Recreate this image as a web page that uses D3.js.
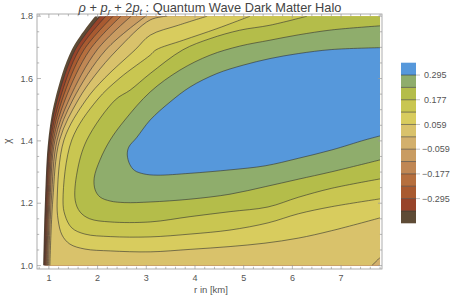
<!DOCTYPE html>
<html>
<head>
<meta charset="utf-8">
<script src="https://cdn.jsdelivr.net/npm/d3@7"></script>
<style>
  body { margin: 0; background: #fff; }
  svg { display: block; font-family: "Liberation Sans", Arial, sans-serif; }
</style>
</head>
<body>
<svg id="chart" width="463" height="297"></svg>
<script>
// contour levels and band colours (low -> high, one more colour than levels)
const levels = [-0.354, -0.295, -0.236, -0.177, -0.118, -0.059, 0, 0.059, 0.118, 0.177, 0.236, 0.295];
const bandColors = ["#5e4b36", "#98442a", "#a95a30", "#b66f3e", "#c08754", "#c99c62", "#d3b06c",
                    "#d9c26b", "#d8cc5e", "#c9c651", "#b4bd4a", "#8fad6c", "#5698db"];
const legendLabels = [0.295, 0.177, 0.059, -0.059, -0.177, -0.295];
const xTicks = [1, 2, 3, 4, 5, 6, 7];
const yTicks = [1.0, 1.2, 1.4, 1.6, 1.8];

// plotted region (r in km, chi)
const rMin = 0.756, rMax = 7.8, chiMin = 1.0, chiMax = 1.8;

// left border of the plotted values (below the plot range it is left blank)
const dataEdge = [[1.95, 1.8], [1.47, 1.692], [1.125, 1.531], [0.988, 1.403], [0.92, 1.21], [0.885, 1.0]];

// contour lines, [r, chi]
const cM354 = [[2.05, 1.8], [1.54, 1.692], [1.17, 1.531], [1.012, 1.403], [0.94, 1.21], [0.903, 1.0]];
const cM295 = [[2.17, 1.8], [1.62, 1.692], [1.22, 1.531], [1.037, 1.403], [0.961, 1.21], [0.92, 1.0]];
const cM236 = [[2.32, 1.8], [1.72, 1.692], [1.27, 1.531], [1.064, 1.403], [0.982, 1.21], [0.936, 1.0]];
const cM177 = [[2.48, 1.8], [1.84, 1.692], [1.33, 1.531], [1.094, 1.403], [1.002, 1.21], [0.955, 1.0]];
const cM118 = [[2.69, 1.8], [1.99, 1.692], [1.41, 1.531], [1.125, 1.403], [1.023, 1.21], [0.973, 1.0]];
const cM059 = [[2.99, 1.8], [2.17, 1.692], [1.49, 1.531], [1.17, 1.403], [1.05, 1.21], [0.994, 1.0]];
const c000 = [[3.43, 1.8], [3.08, 1.788], [2.4, 1.692], [1.95, 1.611], [1.6, 1.531], [1.22, 1.403],
              [1.08, 1.21], [1.02, 1.0]];
const c000b = [[7.63, 1.0], [7.75, 1.018], [7.8, 1.026]];
const c059 = [[4.25, 1.8], [3.66, 1.771], [3.08, 1.739], [2.77, 1.692], [2.15, 1.602], [1.76, 1.531],
              [1.31, 1.403], [1.17, 1.21], [1.19, 1.146], [1.27, 1.098], [1.43, 1.069], [1.74, 1.053],
              [2.26, 1.047], [3.08, 1.044], [3.9, 1.052], [4.72, 1.061], [5.44, 1.072], [6.12, 1.088],
              [6.81, 1.112], [7.8, 1.153]];
const c118 = [[5.13, 1.8], [4.45, 1.76], [3.76, 1.723], [3.2, 1.692], [3.08, 1.675], [2.46, 1.602],
              [1.99, 1.531], [1.47, 1.403], [1.29, 1.21], [1.33, 1.162], [1.47, 1.121], [1.74, 1.101],
              [2.26, 1.093], [3.08, 1.092], [3.9, 1.101], [4.72, 1.114], [5.5, 1.137], [6.12, 1.166],
              [6.81, 1.189], [7.8, 1.214]];
const c177 = [[6.3, 1.8], [5.54, 1.771], [4.92, 1.755], [4.31, 1.728], [3.75, 1.692], [3.08, 1.616],
              [2.67, 1.563], [2.36, 1.531], [1.78, 1.403], [1.58, 1.3], [1.54, 1.21], [1.64, 1.172],
              [1.84, 1.15], [2.26, 1.14], [3.08, 1.14], [3.9, 1.157], [4.72, 1.173], [5.5, 1.188],
              [6.12, 1.219], [6.81, 1.248], [7.8, 1.278]];
const c236 = [[7.8, 1.769], [6.81, 1.756], [6.12, 1.74], [5.54, 1.723], [4.92, 1.704], [4.31, 1.675],
              [3.69, 1.627], [3.08, 1.557], [2.56, 1.467], [2.26, 1.403], [2.05, 1.339], [1.93, 1.281],
              [1.95, 1.243], [2.05, 1.22], [2.26, 1.207], [2.56, 1.202], [3.08, 1.204], [3.9, 1.213],
              [4.72, 1.229], [5.44, 1.253], [6.12, 1.277], [6.81, 1.301], [7.8, 1.339]];
const c295 = [[7.8, 1.699], [6.81, 1.693], [6.12, 1.68], [5.54, 1.664], [4.99, 1.643], [4.45, 1.616],
              [3.9, 1.573], [3.49, 1.525], [3.08, 1.467], [2.8, 1.41], [2.64, 1.38], [2.61, 1.355],
              [2.66, 1.325], [2.76, 1.305], [2.95, 1.294], [3.22, 1.29], [3.9, 1.296], [4.72, 1.307],
              [5.44, 1.32], [6.12, 1.344], [6.81, 1.371], [7.49, 1.403], [7.8, 1.416]];

const contourLines = [[cM354], [cM295], [cM236], [cM177], [cM118], [cM059], [c000, c000b],
                      [c059], [c118], [c177], [c236], [c295]];

const svg = d3.select("#chart");

const x = d3.scaleLinear().domain([0.756, 7.84]).range([37, 382]);
const y = d3.scaleLinear().domain([0.989, 1.807]).range([269, 14]);

const line = d3.line()
    .x(function(d) { return x(d[0]); })
    .y(function(d) { return y(d[1]); })
    .curve(d3.curveCatmullRom.alpha(0.5));

// position of a border point along the frame, counter-clockwise on screen
function perimeter(p) {
    const eps = 1e-6;
    if (Math.abs(p[1] - chiMin) < eps) return (p[0] - rMin) / (rMax - rMin);
    if (Math.abs(p[0] - rMax) < eps) return 1 + (p[1] - chiMin) / (chiMax - chiMin);
    if (Math.abs(p[1] - chiMax) < eps) return 2 + (rMax - p[0]) / (rMax - rMin);
    return 3 + (chiMax - p[1]) / (chiMax - chiMin);
}
const corners = [[[rMax, chiMin], 1], [[rMax, chiMax], 2], [[rMin, chiMax], 3], [[rMin, chiMin], 4]];

// region above a level: the contour pieces, closed along the frame
function regionPath(pieces) {
    let d = "";
    pieces.forEach(function(pts, i) {
        const p = line(pts);
        d += i === 0 ? p : "L" + p.slice(1);
    });
    const first = pieces[0][0];
    const lastPiece = pieces[pieces.length - 1];
    const last = lastPiece[lastPiece.length - 1];
    const te = perimeter(last);
    let ts = perimeter(first);
    if (ts <= te) ts += 4;
    const walk = [];
    corners.forEach(function(c) {
        [c[1], c[1] + 4].forEach(function(t) {
            if (t > te && t < ts) walk.push([t, c[0]]);
        });
    });
    walk.sort(function(a, b) { return a[0] - b[0]; });
    walk.forEach(function(w) { d += "L" + x(w[1][0]) + "," + y(w[1][1]); });
    return d + "Z";
}

svg.append("clipPath").attr("id", "plotClip")
    .append("rect")
    .attr("x", x(rMin)).attr("y", y(chiMax))
    .attr("width", x(rMax) - x(rMin)).attr("height", y(chiMin) - y(chiMax));

const plot = svg.append("g").attr("clip-path", "url(#plotClip)");

// lowest band: everything right of the data edge
plot.append("path")
    .attr("d", regionPath([dataEdge]))
    .attr("fill", bandColors[0]);

plot.selectAll(".band")
    .data(contourLines)
    .enter().append("path")
    .attr("class", "band")
    .attr("d", function(pieces) { return regionPath(pieces); })
    .attr("fill", function(d, i) { return bandColors[i + 1]; });

// contour strokes
contourLines.forEach(function(pieces) {
    pieces.forEach(function(pts) {
        plot.append("path")
            .attr("d", line(pts))
            .attr("fill", "none")
            .attr("stroke", "#333")
            .attr("stroke-opacity", 0.75)
            .attr("stroke-width", 0.8);
    });
});

// frame
const fx0 = 37, fx1 = 382, fy0 = 14, fy1 = 269;
svg.append("rect")
    .attr("x", fx0).attr("y", fy0)
    .attr("width", fx1 - fx0).attr("height", fy1 - fy0)
    .attr("fill", "none").attr("stroke", "#999").attr("stroke-width", 0.8);

const tickColor = "#999";
const xMinor = d3.range(0.8, 7.81, 0.2);
const yMinor = d3.range(1.0, 1.801, 0.05);
const ticks = svg.append("g").attr("stroke", tickColor).attr("stroke-width", 0.7);

xMinor.forEach(function(v) {
    const major = xTicks.some(function(t) { return Math.abs(t - v) < 1e-6; });
    const len = major ? 4 : 2.2;
    ticks.append("line").attr("x1", x(v)).attr("x2", x(v)).attr("y1", fy1).attr("y2", fy1 - len);
    ticks.append("line").attr("x1", x(v)).attr("x2", x(v)).attr("y1", fy0).attr("y2", fy0 + len);
});
yMinor.forEach(function(v) {
    const major = yTicks.some(function(t) { return Math.abs(t - v) < 1e-6; });
    const len = major ? 4 : 2.2;
    ticks.append("line").attr("y1", y(v)).attr("y2", y(v)).attr("x1", fx0).attr("x2", fx0 + len);
    ticks.append("line").attr("y1", y(v)).attr("y2", y(v)).attr("x1", fx1).attr("x2", fx1 - len);
});

svg.selectAll(".xlab")
    .data(xTicks)
    .enter().append("text")
    .attr("class", "xlab")
    .attr("x", function(d) { return x(d); })
    .attr("y", 281)
    .attr("text-anchor", "middle")
    .attr("font-size", 9)
    .attr("fill", "#555")
    .text(function(d) { return d; });

svg.selectAll(".ylab")
    .data(yTicks)
    .enter().append("text")
    .attr("class", "ylab")
    .attr("x", 33)
    .attr("y", function(d) { return y(d) + 3.2; })
    .attr("text-anchor", "end")
    .attr("font-size", 9)
    .attr("fill", "#555")
    .text(function(d) { return d.toFixed(1); });

svg.append("text")
    .attr("x", 211).attr("y", 293)
    .attr("text-anchor", "middle")
    .attr("font-size", 9.5)
    .attr("fill", "#555")
    .text("r in [km]");

svg.append("text")
    .attr("transform", "translate(11,141) rotate(-90)")
    .attr("text-anchor", "middle")
    .attr("font-size", 10)
    .attr("fill", "#555")
    .text("χ");

// title
const title = svg.append("text")
    .attr("x", 210).attr("y", 12)
    .attr("text-anchor", "middle")
    .attr("font-size", 12.8)
    .attr("fill", "#444");
title.append("tspan").attr("font-style", "italic").text("ρ");
title.append("tspan").text(" + ");
title.append("tspan").attr("font-style", "italic").text("p");
title.append("tspan").attr("font-style", "italic").attr("font-size", 9).attr("dy", 2.5).text("r");
title.append("tspan").attr("dy", -2.5).text(" + 2");
title.append("tspan").attr("font-style", "italic").text("p");
title.append("tspan").attr("font-style", "italic").attr("font-size", 9).attr("dy", 2.5).text("t");
title.append("tspan").attr("dy", -2.5).text(" : Quantum Wave Dark Matter Halo");

// colour bar
const legendScale = d3.scaleLinear()
    .domain([levels[0] - 0.059, levels[levels.length - 1] + 0.059])
    .range([223.3, 62.7]);
const bounds = [levels[0] - 0.059].concat(levels, [levels[levels.length - 1] + 0.059]);
const legend = svg.append("g");
legend.selectAll("rect")
    .data(bandColors)
    .enter().append("rect")
    .attr("x", 401)
    .attr("width", 15)
    .attr("y", function(d, i) { return legendScale(bounds[i + 1]); })
    .attr("height", function(d, i) { return legendScale(bounds[i]) - legendScale(bounds[i + 1]); })
    .attr("fill", function(d) { return d; });
legend.selectAll(".sep")
    .data(levels)
    .enter().append("line")
    .attr("class", "sep")
    .attr("x1", 401).attr("x2", 416)
    .attr("y1", function(d) { return legendScale(d); })
    .attr("y2", function(d) { return legendScale(d); })
    .attr("stroke", "#333").attr("stroke-opacity", 0.8).attr("stroke-width", 0.7);
legend.selectAll(".ltick")
    .data(legendLabels)
    .enter().append("line")
    .attr("class", "ltick")
    .attr("x1", 416).attr("x2", 420)
    .attr("y1", function(d) { return legendScale(d); })
    .attr("y2", function(d) { return legendScale(d); })
    .attr("stroke", "#aaa").attr("stroke-width", 0.7);
legend.selectAll(".llab")
    .data(legendLabels)
    .enter().append("text")
    .attr("class", "llab")
    .attr("x", function(d) { return d < 0 ? 422 : 424; })
    .attr("y", function(d) { return legendScale(d) + 3.2; })
    .attr("font-size", 9)
    .attr("fill", "#555")
    .text(function(d) { return d < 0 ? "\u2212" + Math.abs(d).toFixed(3) : d.toFixed(3); });
</script>
</body>
</html>
